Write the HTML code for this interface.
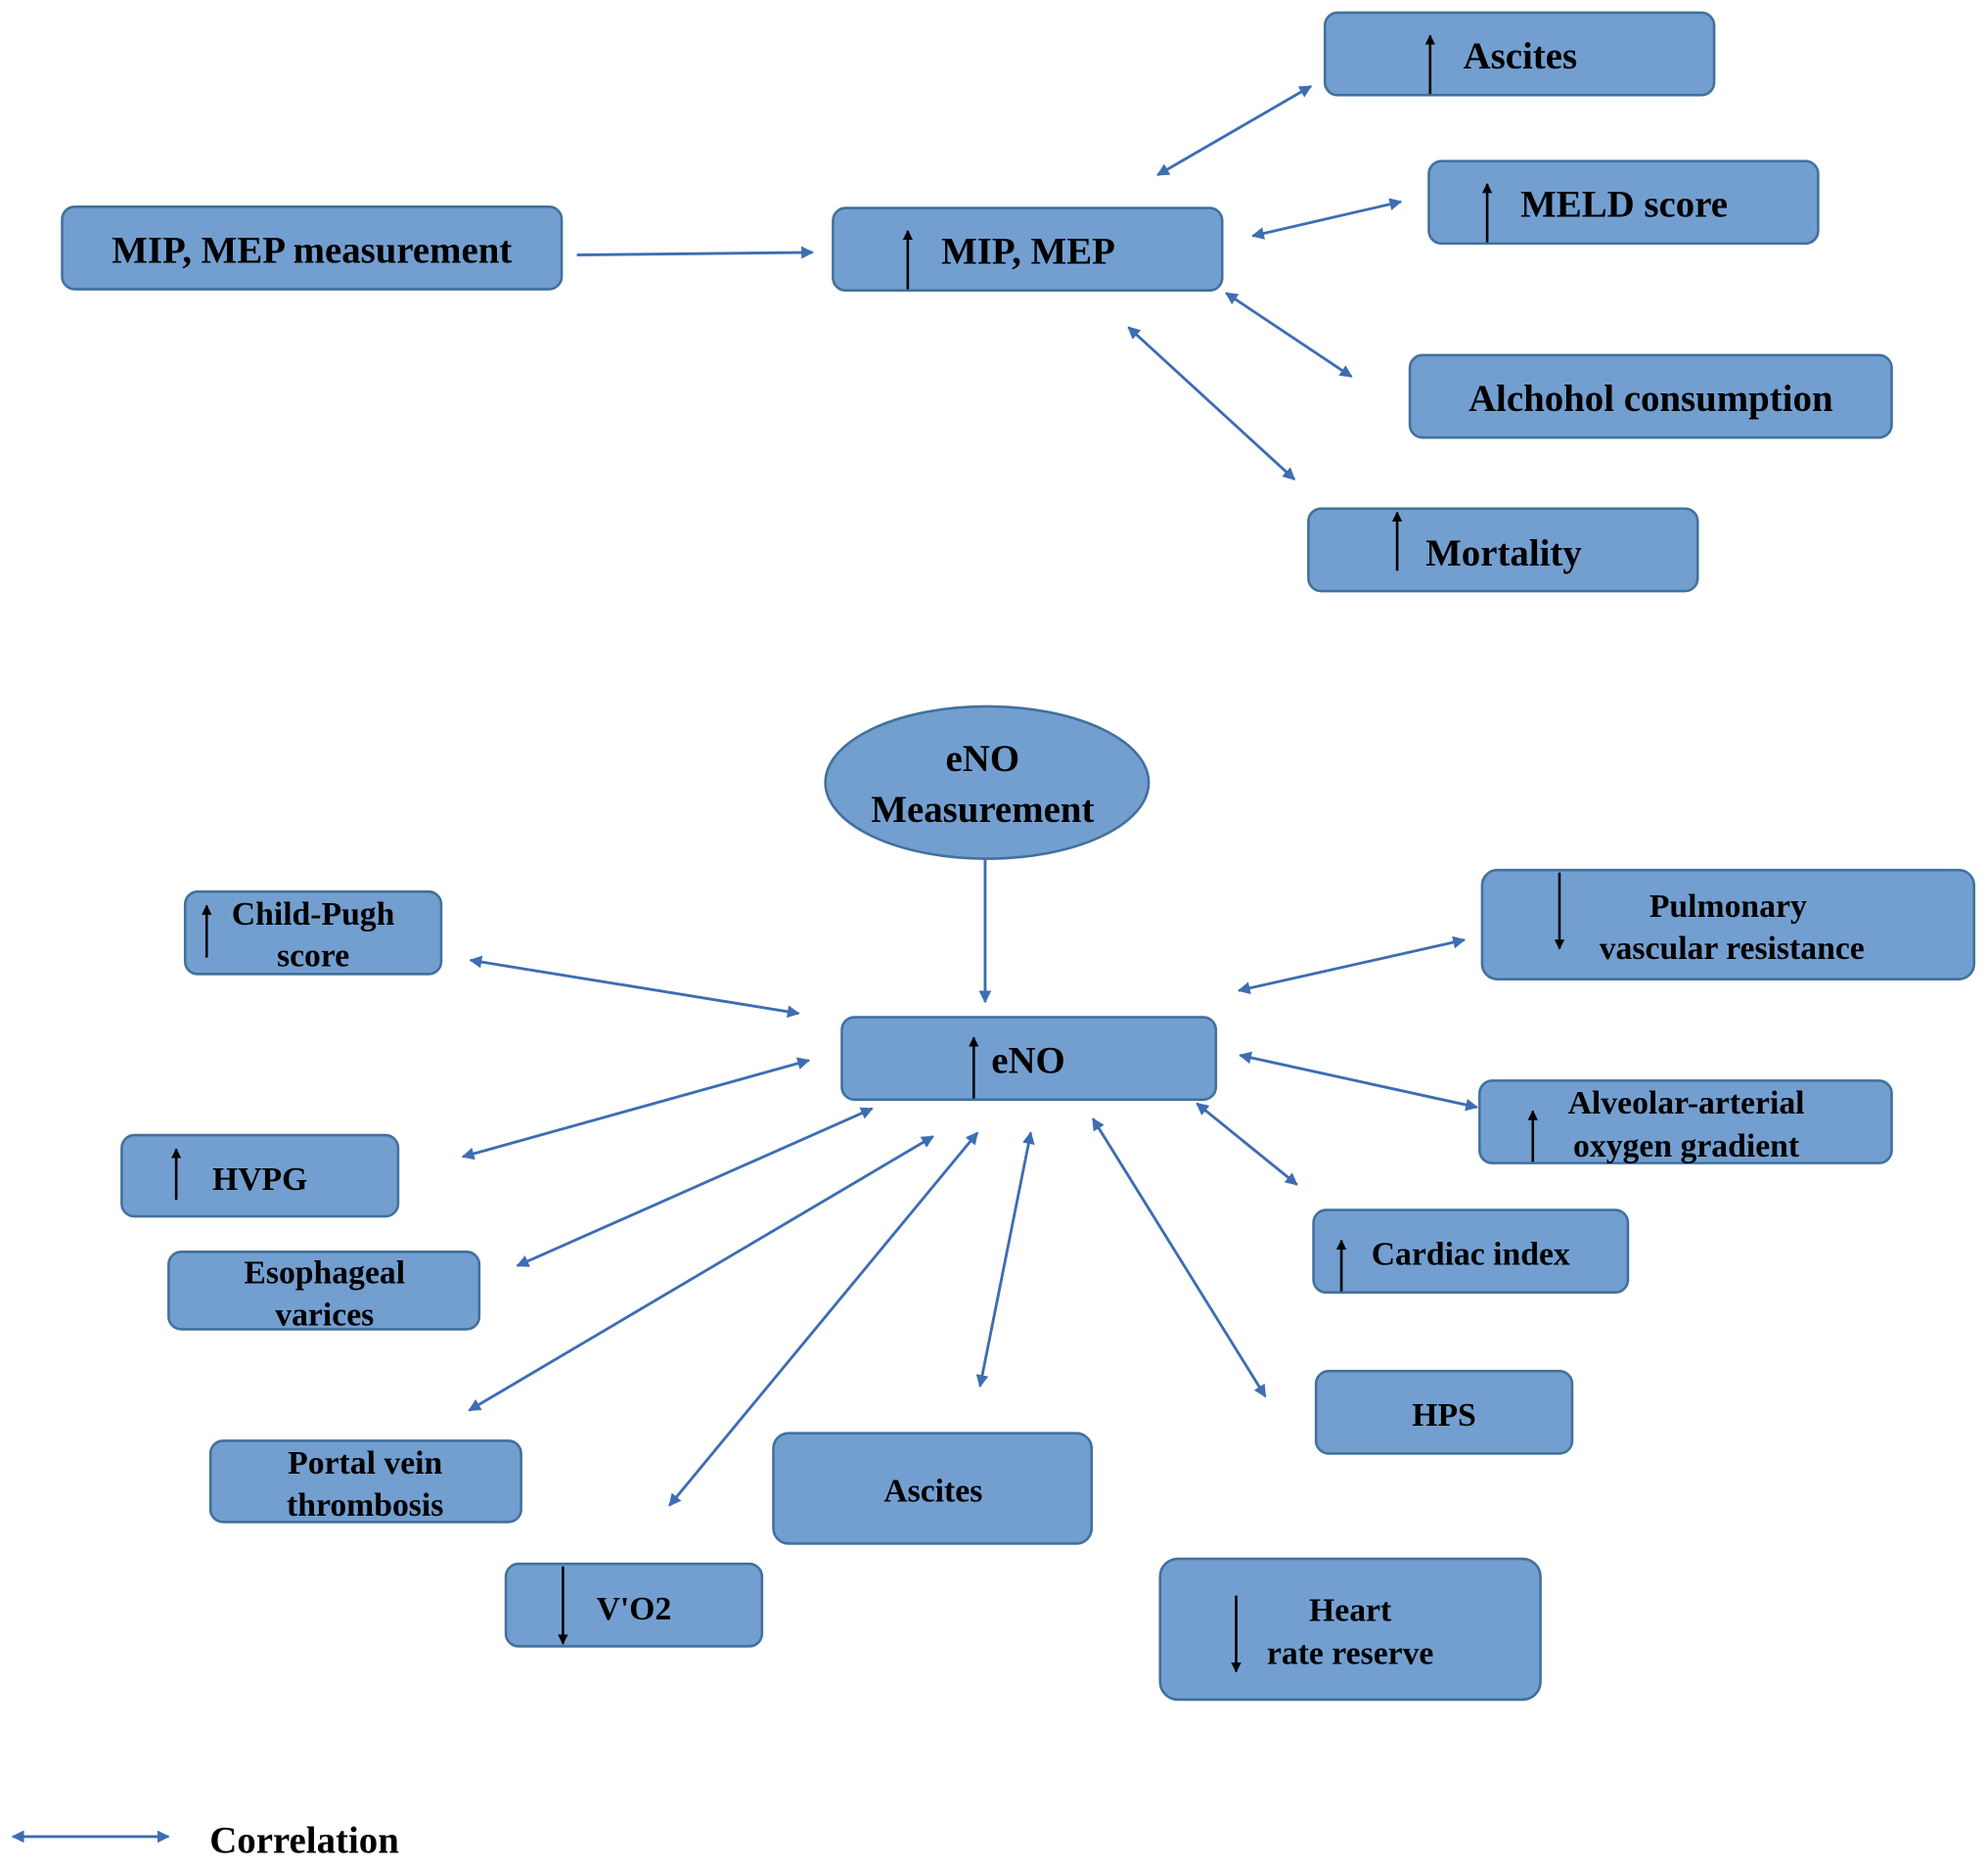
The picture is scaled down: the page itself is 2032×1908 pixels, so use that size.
<!DOCTYPE html>
<html><head><meta charset="utf-8"><style>html,body{margin:0;padding:0;background:#fff;}svg{display:block}</style></head>
<body>
<svg width="2032" height="1908" viewBox="0 0 1568 1472" preserveAspectRatio="none" xmlns="http://www.w3.org/2000/svg">
<defs>
<marker id="ah" viewBox="0 0 10 10" refX="9" refY="5" markerWidth="4.5" markerHeight="4.5" orient="auto-start-reverse" markerUnits="strokeWidth"><path d="M0,0 L10,5 L0,10 z" fill="#3d6db3"/></marker>
<marker id="bk" viewBox="0 0 10 10" refX="9" refY="5" markerWidth="4" markerHeight="4" orient="auto" markerUnits="strokeWidth"><path d="M0,0 L10,5 L0,10 z" fill="#000"/></marker>
</defs>
<g fill="#739fd0" stroke="#41719c" stroke-width="2">
<rect x="1045" y="10" width="307" height="65" rx="10"/>
<rect x="1127" y="127" width="307" height="65" rx="10"/>
<rect x="49" y="163" width="394" height="65" rx="10"/>
<rect x="657" y="164" width="307" height="65" rx="10"/>
<rect x="1112" y="280" width="380" height="65" rx="10"/>
<rect x="1032" y="401" width="307" height="65" rx="10"/>
<rect x="651" y="557" width="255" height="120" rx="127" ry="60"/>
<rect x="146" y="703" width="202" height="65" rx="10"/>
<rect x="1169" y="686" width="388" height="86" rx="12"/>
<rect x="664" y="802" width="295" height="65" rx="10"/>
<rect x="1167" y="852" width="325" height="65" rx="10"/>
<rect x="96" y="895" width="218" height="64" rx="10"/>
<rect x="1036" y="954" width="248" height="65" rx="10"/>
<rect x="133" y="987" width="245" height="61" rx="10"/>
<rect x="1038" y="1081" width="202" height="65" rx="10"/>
<rect x="166" y="1136" width="245" height="64" rx="10"/>
<rect x="610" y="1130" width="251" height="87" rx="12"/>
<rect x="399" y="1233" width="202" height="65" rx="10"/>
<rect x="915" y="1229" width="300" height="111" rx="14"/>
</g>
<g stroke="#3d6db3" stroke-width="2.2" fill="none">
<line x1="455" y1="201" x2="641" y2="199" marker-end="url(#ah)"/>
<line x1="913" y1="138" x2="1034" y2="68" marker-start="url(#ah)" marker-end="url(#ah)"/>
<line x1="988" y1="186" x2="1105" y2="159" marker-start="url(#ah)" marker-end="url(#ah)"/>
<line x1="967" y1="231" x2="1066" y2="297" marker-start="url(#ah)" marker-end="url(#ah)"/>
<line x1="890" y1="258" x2="1021" y2="378" marker-start="url(#ah)" marker-end="url(#ah)"/>
<line x1="777" y1="678" x2="777" y2="790" marker-end="url(#ah)"/>
<line x1="371" y1="757" x2="630" y2="799" marker-start="url(#ah)" marker-end="url(#ah)"/>
<line x1="365" y1="912" x2="638" y2="836" marker-start="url(#ah)" marker-end="url(#ah)"/>
<line x1="408" y1="998" x2="688" y2="874" marker-start="url(#ah)" marker-end="url(#ah)"/>
<line x1="370" y1="1112" x2="736" y2="896" marker-start="url(#ah)" marker-end="url(#ah)"/>
<line x1="528" y1="1187" x2="771" y2="893" marker-start="url(#ah)" marker-end="url(#ah)"/>
<line x1="773" y1="1093" x2="813" y2="893" marker-start="url(#ah)" marker-end="url(#ah)"/>
<line x1="862" y1="882" x2="998" y2="1101" marker-start="url(#ah)" marker-end="url(#ah)"/>
<line x1="944" y1="870" x2="1023" y2="934" marker-start="url(#ah)" marker-end="url(#ah)"/>
<line x1="978" y1="832" x2="1165" y2="873" marker-start="url(#ah)" marker-end="url(#ah)"/>
<line x1="977" y1="781" x2="1155" y2="741" marker-start="url(#ah)" marker-end="url(#ah)"/>
<line x1="10" y1="1448" x2="133" y2="1448" marker-start="url(#ah)" marker-end="url(#ah)"/>
</g>
<g stroke="#000" stroke-width="2" fill="none">
<line x1="1128" y1="74" x2="1128" y2="28" marker-end="url(#bk)"/>
<line x1="1173" y1="191" x2="1173" y2="145" marker-end="url(#bk)"/>
<line x1="716" y1="228" x2="716" y2="182" marker-end="url(#bk)"/>
<line x1="1102" y1="450" x2="1102" y2="404" marker-end="url(#bk)"/>
<line x1="163" y1="755" x2="163" y2="714" marker-end="url(#bk)"/>
<line x1="1230" y1="688" x2="1230" y2="748" marker-end="url(#bk)"/>
<line x1="768" y1="866" x2="768" y2="818" marker-end="url(#bk)"/>
<line x1="1209" y1="916" x2="1209" y2="876" marker-end="url(#bk)"/>
<line x1="139" y1="946" x2="139" y2="906" marker-end="url(#bk)"/>
<line x1="1058" y1="1018" x2="1058" y2="978" marker-end="url(#bk)"/>
<line x1="444" y1="1235" x2="444" y2="1296" marker-end="url(#bk)"/>
<line x1="975" y1="1258" x2="975" y2="1318" marker-end="url(#bk)"/>
</g>
<g font-family="'Liberation Serif', serif" font-weight="bold" fill="#000" text-anchor="middle">
<text x="1199" y="54" font-size="30">Ascites</text>
<text x="1281" y="171" font-size="30">MELD score</text>
<text x="246" y="207" font-size="30">MIP, MEP measurement</text>
<text x="811" y="208" font-size="30">MIP, MEP</text>
<text x="1302" y="324" font-size="30">Alchohol consumption</text>
<text x="1186" y="446" font-size="30">Mortality</text>
<text x="775" y="608" font-size="30">eNO</text>
<text x="775" y="648" font-size="30">Measurement</text>
<text x="247" y="729" font-size="26">Child-Pugh</text>
<text x="247" y="762" font-size="26">score</text>
<text x="1363" y="723" font-size="26">Pulmonary</text>
<text x="1366" y="756" font-size="26">vascular resistance</text>
<text x="811" y="846" font-size="30">eNO</text>
<text x="1330" y="878" font-size="26">Alveolar-arterial</text>
<text x="1330" y="912" font-size="26">oxygen gradient</text>
<text x="205" y="938" font-size="26">HVPG</text>
<text x="1160" y="997" font-size="26">Cardiac index</text>
<text x="256" y="1012" font-size="26">Esophageal</text>
<text x="256" y="1045" font-size="26">varices</text>
<text x="1139" y="1124" font-size="26">HPS</text>
<text x="288" y="1162" font-size="26">Portal vein</text>
<text x="288" y="1195" font-size="26">thrombosis</text>
<text x="736" y="1184" font-size="26">Ascites</text>
<text x="500" y="1277" font-size="26">V'O2</text>
<text x="1065" y="1278" font-size="26">Heart</text>
<text x="1065" y="1312" font-size="26">rate reserve</text>
<text x="240" y="1461" font-size="30">Correlation</text>
</g>
</svg>
</body></html>
